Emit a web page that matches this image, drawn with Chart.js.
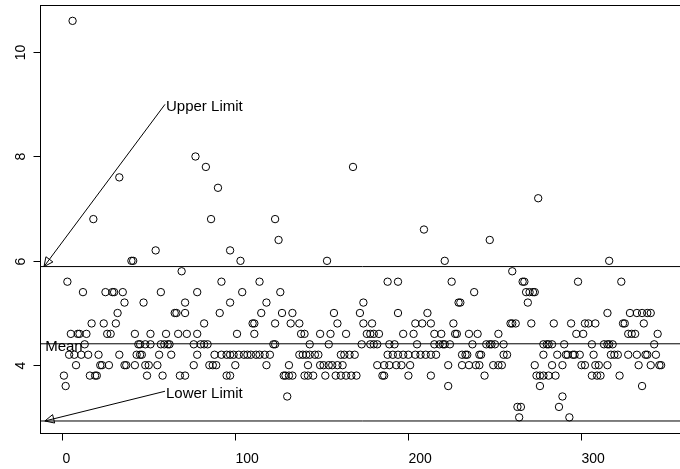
<!DOCTYPE html>
<html>
<head>
<meta charset="utf-8">
<script src="https://cdn.jsdelivr.net/npm/chart.js@4.4.1/dist/chart.umd.min.js"></script>
<style>
html, body { margin: 0; padding: 0; background: #fff; overflow: hidden; }
#wrap { width: 690px; height: 469px; }
</style>
</head>
<body>
<div id="wrap"><canvas id="qcc_chart" width="690" height="469"></canvas></div>
<script>
// sample number (x) and reading (y)
var sampleNo = [
    1, 2, 3, 4, 5, 6, 7, 8, 9, 10,
    11, 12, 13, 14, 15, 16, 17, 18, 19, 20,
    21, 22, 23, 24, 25, 26, 27, 28, 29, 30,
    31, 32, 33, 33, 35, 36, 36, 37, 40, 41,
    42, 42, 43, 44, 45, 45, 46, 47, 48, 48,
    49, 50, 51, 51, 54, 55, 56, 57, 57, 58,
    59, 60, 61, 62, 63, 65, 66, 67, 68, 69,
    71, 71, 71, 72, 76, 76, 77, 78, 78, 78,
    80, 82, 82, 83, 84, 85, 86, 87, 88, 89,
    90, 91, 92, 92, 95, 95, 97, 97, 97, 97,
    99, 100, 101, 102, 103, 104, 105, 107, 109, 110,
    111, 111, 112, 114, 114, 115, 117, 118, 118, 120,
    122, 123, 123, 123, 125, 126, 127, 128, 129, 130,
    131, 131, 132, 133, 133, 137, 137, 138, 139, 140,
    140, 141, 142, 142, 143, 143, 145, 146, 148, 149,
    149, 151, 152, 153, 154, 154, 155, 156, 157, 158,
    159, 159, 161, 161, 162, 163, 164, 164, 166, 167,
    168, 169, 170, 172, 173, 174, 174, 176, 178, 178,
    179, 180, 180, 182, 182, 183, 185, 186, 186, 188,
    188, 189, 189, 191, 192, 193, 194, 194, 194, 196,
    197, 197, 200, 200, 201, 203, 204, 204, 205, 207,
    208, 209, 210, 211, 213, 213, 213, 215, 215, 216,
    218, 219, 220, 221, 221, 223, 223, 224, 225, 226,
    227, 228, 229, 230, 231, 231, 233, 234, 235, 235,
    237, 238, 239, 240, 241, 241, 242, 244, 245, 247,
    247, 248, 249, 250, 252, 252, 254, 255, 255, 257,
    259, 260, 260, 262, 263, 264, 265, 266, 267, 268,
    269, 270, 271, 272, 273, 273, 274, 275, 276, 276,
    278, 278, 278, 280, 281, 281, 283, 283, 284, 285,
    286, 287, 289, 289, 290, 291, 292, 293, 294, 295,
    296, 297, 298, 299, 300, 301, 302, 302, 304, 306,
    306, 307, 308, 308, 309, 310, 311, 313, 315, 315,
    315, 316, 316, 317, 318, 319, 321, 322, 323, 324,
    325, 327, 327, 328, 329, 331, 332, 332, 333, 335,
    335, 336, 337, 338, 338, 340, 340, 342, 343, 344,
    345, 346
];
var reading = [
    3.8, 3.6, 5.6, 4.2, 4.6, 10.6, 4.2, 4.0, 4.6, 4.6,
    4.2, 5.4, 4.4, 4.6, 4.2, 3.8, 4.8, 6.8, 3.8, 3.8,
    4.2, 4.0, 4.0, 4.8, 5.4, 4.6, 4.0, 4.6, 5.4, 5.4,
    4.8, 5.0, 4.2, 7.6, 5.4, 4.0, 5.2, 4.0, 6.0, 6.0,
    4.6, 4.0, 4.2, 4.4, 4.4, 4.2, 4.2, 5.2, 4.4, 4.0,
    3.8, 4.0, 4.6, 4.4, 6.2, 4.0, 4.2, 5.4, 4.4, 3.8,
    4.4, 4.6, 4.4, 4.4, 4.2, 5.0, 5.0, 4.6, 3.8, 5.8,
    5.2, 5.0, 3.8, 4.6, 4.4, 4.0, 8.0, 5.4, 4.6, 4.2,
    4.4, 4.8, 4.4, 7.8, 4.4, 4.0, 6.8, 4.0, 4.2, 4.0,
    7.4, 5.0, 5.6, 4.2, 4.2, 3.8, 6.2, 5.2, 4.2, 3.8,
    4.2, 4.0, 4.6, 4.2, 6.0, 5.4, 4.2, 4.2, 4.2, 4.8,
    4.8, 4.6, 4.2, 5.6, 4.2, 5.0, 4.2, 5.2, 4.0, 4.2,
    4.4, 4.4, 4.8, 6.8, 6.4, 5.4, 5.0, 3.8, 3.8, 3.4,
    3.8, 4.0, 4.8, 5.0, 3.8, 4.2, 4.8, 4.6, 4.2, 4.6,
    3.8, 4.2, 4.0, 3.8, 4.2, 4.4, 3.8, 4.2, 4.2, 4.6,
    4.0, 4.0, 3.8, 6.0, 4.4, 4.0, 4.6, 4.0, 5.0, 3.8,
    4.0, 4.8, 3.8, 4.2, 4.0, 4.2, 3.8, 4.6, 4.2, 3.8,
    7.8, 4.2, 3.8, 5.0, 4.4, 5.2, 4.8, 4.6, 4.6, 4.4,
    4.8, 4.6, 4.4, 4.4, 4.0, 4.6, 3.8, 4.0, 3.8, 5.6,
    4.2, 4.4, 4.0, 4.2, 4.4, 4.0, 5.6, 5.0, 4.2, 4.0,
    4.6, 4.2, 4.2, 3.8, 4.0, 4.6, 4.2, 4.8, 4.4, 4.2,
    4.8, 6.6, 4.2, 5.0, 4.2, 4.8, 3.8, 4.6, 4.4, 4.2,
    4.4, 4.6, 4.4, 4.4, 6.0, 4.0, 3.6, 4.4, 5.6, 4.8,
    4.6, 4.6, 5.2, 5.2, 4.2, 4.0, 4.2, 4.2, 4.6, 4.0,
    4.4, 5.4, 4.0, 4.6, 4.2, 4.0, 4.2, 3.8, 4.4, 4.4,
    6.4, 4.4, 4.0, 4.4, 4.0, 4.6, 4.0, 4.4, 4.2, 4.2,
    4.8, 5.8, 4.8, 4.8, 3.2, 3.0, 3.2, 5.6, 5.6, 5.4,
    5.2, 5.4, 4.8, 5.4, 5.4, 4.0, 3.8, 7.2, 3.8, 3.6,
    4.4, 4.2, 3.8, 4.4, 3.8, 4.4, 4.4, 4.0, 4.8, 3.8,
    4.2, 3.2, 4.0, 3.4, 4.4, 4.2, 4.2, 3.0, 4.8, 4.2,
    4.2, 4.6, 5.6, 4.2, 4.0, 4.6, 4.8, 4.0, 4.8, 4.4,
    3.8, 4.2, 4.8, 4.0, 3.8, 4.0, 3.8, 4.4, 4.4, 4.0,
    5.0, 6.0, 4.4, 4.2, 4.4, 4.2, 4.2, 3.8, 5.6, 4.8,
    4.8, 4.6, 4.2, 5.0, 4.6, 4.6, 5.0, 4.2, 4.0, 5.0,
    3.6, 4.8, 4.2, 5.0, 4.2, 4.0, 5.0, 4.4, 4.2, 4.6,
    4.0, 4.0
];

var centerLine = 4.41;
var upperLimit = 5.89;
var lowerLimit = 2.93;

var xTicks = [0, 100, 200, 300];
var yTicks = [4, 6, 8, 10];
var xRange = [-12.82, 359.8];
var yRange = [2.696, 10.904];

var notes = [
    { text: 'Upper Limit', x: 59.4, y: 9.0, toX: -10.5, toY: upperLimit },
    { text: 'Lower Limit', x: 59.4, y: 3.5, toX: -10.0, toY: lowerLimit }
];
var meanLabel = { text: 'Mean', x: 1, y: centerLine };

var FONT = '"Liberation Sans", Arial, Helvetica, sans-serif';

function hline(v) {
    return {
        type: 'line',
        data: [{ x: xRange[0], y: v }, { x: xRange[1], y: v }],
        borderColor: '#000',
        borderWidth: 1,
        pointRadius: 0,
        fill: false
    };
}

var decor = {
    id: 'decor',
    afterDatasetsDraw: function (chart) {
        var ctx = chart.ctx;
        var a = chart.chartArea;
        var sx = chart.scales.x;
        var sy = chart.scales.y;
        ctx.save();
        ctx.strokeStyle = '#000';
        ctx.fillStyle = '#000';
        ctx.lineWidth = 1;

        // box
        var l = Math.round(a.left) + 0.5, t = Math.round(a.top) + 0.5;
        var b = Math.round(a.bottom) + 0.5, r = Math.round(a.right) + 0.5;
        ctx.strokeRect(l, t, r - l, b - t);

        // x axis
        ctx.beginPath();
        ctx.moveTo(Math.round(sx.getPixelForValue(xTicks[0])) + 0.5, b);
        ctx.lineTo(Math.round(sx.getPixelForValue(xTicks[xTicks.length - 1])) + 0.5, b);
        ctx.stroke();
        ctx.font = '14px ' + FONT;
        ctx.textAlign = 'left';
        ctx.textBaseline = 'alphabetic';
        xTicks.forEach(function (v) {
            var px = Math.round(sx.getPixelForValue(v)) + 0.5;
            ctx.beginPath();
            ctx.moveTo(px, b);
            ctx.lineTo(px, b + 7);
            ctx.stroke();
            ctx.fillText(String(v), px, 463);
        });

        // y axis
        ctx.beginPath();
        ctx.moveTo(l, Math.round(sy.getPixelForValue(yTicks[0])) + 0.5);
        ctx.lineTo(l, Math.round(sy.getPixelForValue(yTicks[yTicks.length - 1])) + 0.5);
        ctx.stroke();
        ctx.textAlign = 'center';
        yTicks.forEach(function (v) {
            var py = Math.round(sy.getPixelForValue(v)) + 0.5;
            ctx.beginPath();
            ctx.moveTo(l, py);
            ctx.lineTo(l - 7, py);
            ctx.stroke();
            ctx.save();
            ctx.translate(25, py);
            ctx.rotate(-Math.PI / 2);
            ctx.fillText(String(v), 0, 0);
            ctx.restore();
        });

        // arrows and labels
        ctx.font = '15px ' + FONT;
        notes.forEach(function (n) {
            var x0 = sx.getPixelForValue(n.x), y0 = sy.getPixelForValue(n.y);
            var x1 = sx.getPixelForValue(n.toX), y1 = sy.getPixelForValue(n.toY);
            ctx.beginPath();
            ctx.moveTo(x0, y0);
            ctx.lineTo(x1, y1);
            ctx.stroke();
            var ang = Math.atan2(y0 - y1, x0 - x1);
            var len = 10, h = Math.PI / 7;
            ctx.beginPath();
            ctx.moveTo(x1, y1);
            ctx.lineTo(x1 + len * Math.cos(ang + h), y1 + len * Math.sin(ang + h));
            ctx.lineTo(x1 + len * Math.cos(ang - h), y1 + len * Math.sin(ang - h));
            ctx.closePath();
            ctx.stroke();
            ctx.textAlign = 'left';
            ctx.textBaseline = 'middle';
            ctx.fillText(n.text, x0 + 1, y0 + 3);
        });
        ctx.textAlign = 'center';
        ctx.textBaseline = 'middle';
        ctx.fillText(meanLabel.text, sx.getPixelForValue(meanLabel.x), sy.getPixelForValue(meanLabel.y) + 3);
        ctx.restore();
    }
};

function getChartJs() {
    var pts = [];
    for (var i = 0; i < sampleNo.length; i++) {
        pts.push({ x: sampleNo[i], y: reading[i] });
    }
    return {
        type: 'scatter',
        data: {
            datasets: [{
                data: pts,
                pointStyle: 'circle',
                pointRadius: 3.7,
                pointBorderWidth: 1,
                borderColor: '#000',
                backgroundColor: 'rgba(0,0,0,0)',
                pointBackgroundColor: 'rgba(0,0,0,0)'
            },
            hline(upperLimit),
            hline(centerLine),
            hline(lowerLimit)]
        },
        options: {
            responsive: false,
            animation: false,
            devicePixelRatio: 1,
            layout: { padding: { left: 40, top: 4.6, right: 1.7, bottom: 35.8 } },
            plugins: { legend: { display: false }, tooltip: { enabled: false } },
            scales: {
                x: { type: 'linear', display: false, min: xRange[0], max: xRange[1] },
                y: { type: 'linear', display: false, min: yRange[0], max: yRange[1] }
            }
        },
        plugins: [decor]
    };
}

new Chart(document.getElementById('qcc_chart').getContext('2d'), getChartJs());
</script>
</body>
</html>
